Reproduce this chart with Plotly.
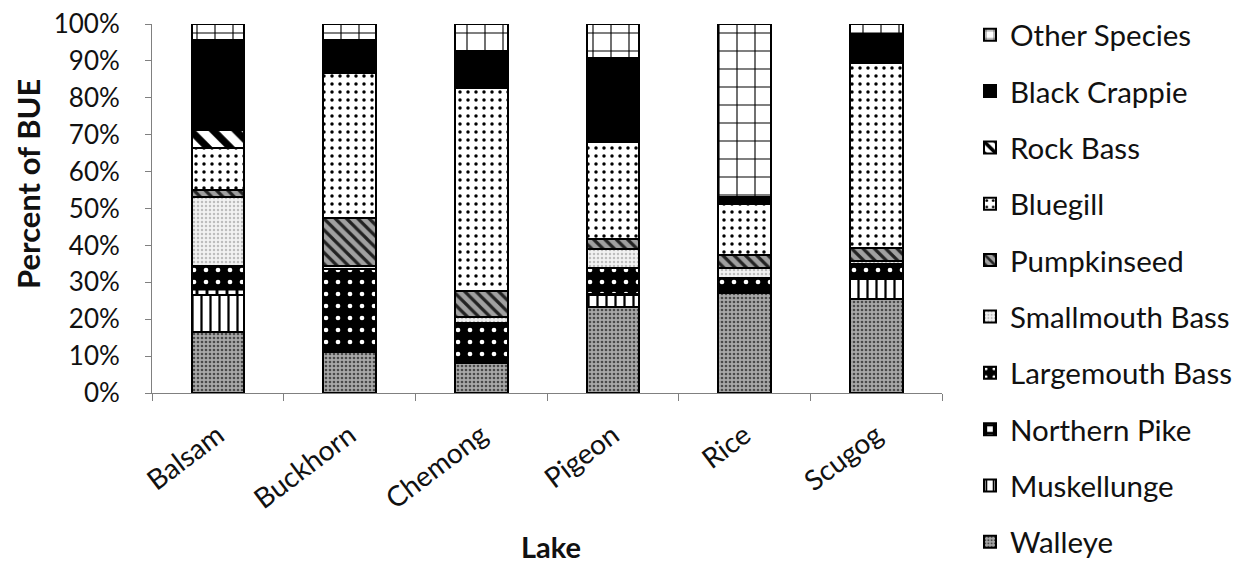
import plotly.graph_objects as go

lakes = ["Balsam", "Buckhorn", "Chemong", "Pigeon", "Rice", "Scugog"]

walleye        = [16.4, 11.2, 8.0, 23.4, 27.0, 25.5]
muskellunge    = [10.2, 0.3, 0.3, 3.2, 0.2, 5.5]
northern_pike  = [2.2, 0.2, 0.2, 0.3, 0.1, 0.3]
largemouth     = [5.6, 22.0, 10.4, 7.1, 4.0, 3.6]
smallmouth     = [18.7, 0.7, 1.8, 5.0, 2.7, 1.0]
pumpkinseed    = [1.8, 13.0, 7.0, 2.7, 3.4, 3.5]
bluegill       = [11.4, 39.3, 55.0, 26.4, 13.7, 50.0]
rock_bass      = [5.1, 0.1, 0.0, 0.0, 0.0, 0.0]
black_crappie  = [24.3, 9.0, 9.9, 22.7, 2.0, 8.0]
other_species  = [4.3, 4.2, 7.4, 9.2, 46.9, 2.6]

y_title = "Percent of BUE"
x_title = "Lake"

series = [
    ("Walleye", walleye, dict(shape=".", fgcolor="#4a4a4a", bgcolor="#a8a8a8", size=4, solidity=0.35)),
    ("Muskellunge", muskellunge, dict(shape="|", fgcolor="#000000", bgcolor="#ffffff", size=9, solidity=0.25)),
    ("Northern Pike", northern_pike, dict(shape="+", fgcolor="#000000", bgcolor="#ffffff", size=10, solidity=0.5)),
    ("Largemouth Bass", largemouth, dict(shape=".", fgcolor="#ffffff", bgcolor="#000000", size=12, solidity=0.12)),
    ("Smallmouth Bass", smallmouth, dict(shape=".", fgcolor="#bdbdbd", bgcolor="#f2f2f2", size=4, solidity=0.3)),
    ("Pumpkinseed", pumpkinseed, dict(shape="\\", fgcolor="#222222", bgcolor="#a0a0a0", size=8, solidity=0.4)),
    ("Bluegill", bluegill, dict(shape=".", fgcolor="#000000", bgcolor="#ffffff", size=8, solidity=0.15)),
    ("Rock Bass", rock_bass, dict(shape="\\", fgcolor="#000000", bgcolor="#ffffff", size=16, solidity=0.45)),
    ("Black Crappie", black_crappie, dict(shape="", fgcolor="#000000", bgcolor="#000000", size=8, solidity=0.5)),
    ("Other Species", other_species, dict(shape="+", fgcolor="#000000", bgcolor="#ffffff", size=18, solidity=0.12)),
]

# The page body has an 8 px default margin, so the figure is drawn 8 px in from the top-left.
OFF = 8
W, H = 1247 - OFF, 563 - OFF
PL, PR, PT, PB = 152 - OFF, 942 - OFF, 24 - OFF, 393 - OFF   # plot area in figure px
PW, PH = PR - PL, PB - PT

n = len(series)
fig = go.Figure()
for i, (name, vals, pat) in enumerate(series):
    fig.add_trace(go.Bar(
        name=name, x=lakes, y=vals, legendgroup=name, legendrank=n - i,
        marker=dict(color=pat["bgcolor"], line=dict(color="#000000", width=2),
                    pattern=dict(shape=pat["shape"], fgcolor=pat["fgcolor"], bgcolor=pat["bgcolor"],
                                 size=pat["size"], solidity=pat["solidity"], fillmode="replace")),
        width=0.4,
    ))

font_family = "Lato, 'Open Sans', sans-serif"
fig.update_layout(
    barmode="stack",
    width=W, height=H,
    margin=dict(l=PL, r=W - PR, t=PT, b=H - PB, autoexpand=False),
    paper_bgcolor="white", plot_bgcolor="white",
    font=dict(family=font_family, size=24, color="#111111"),
    showlegend=True,
    legend=dict(xref="container", yref="container", x=(1012 - 42 - OFF) / W, y=1 - 1 / H,
                xanchor="left", yanchor="top",
                traceorder="grouped", tracegroupgap=15, maxheight=600,
                font=dict(size=29.5), bgcolor="rgba(0,0,0,0)"),
    xaxis=dict(showline=True, linecolor="#808080", linewidth=1, ticks="outside", ticklen=7,
               tickcolor="#808080", tickson="boundaries", tickangle=-37, automargin=False,
               ticklabelstandoff=14, ticklabeloverflow="allow", tickfont=dict(size=28), showgrid=False),
    yaxis=dict(range=[0, 100], dtick=10, ticksuffix="%", showline=True, linecolor="#808080",
               linewidth=1, ticks="outside", ticklen=6, tickcolor="#808080", showgrid=False,
               ticklabelstandoff=20, ticklabeloverflow="allow", tickfont=dict(size=26),
               zeroline=False, automargin=False),
    annotations=[
        dict(text="<b>" + y_title + "</b>", xref="paper", yref="paper",
             x=(28 - 152) / PW, y=(393 - 184) / PH, textangle=-90,
             xanchor="center", yanchor="middle", showarrow=False, font=dict(size=31)),
        dict(text="<b>" + x_title + "</b>", xref="paper", yref="paper",
             x=(551 - 152) / PW, y=(393 - 546) / PH,
             xanchor="center", yanchor="middle", showarrow=False, font=dict(size=29)),
    ],
)

fig.write_html("out.html")
